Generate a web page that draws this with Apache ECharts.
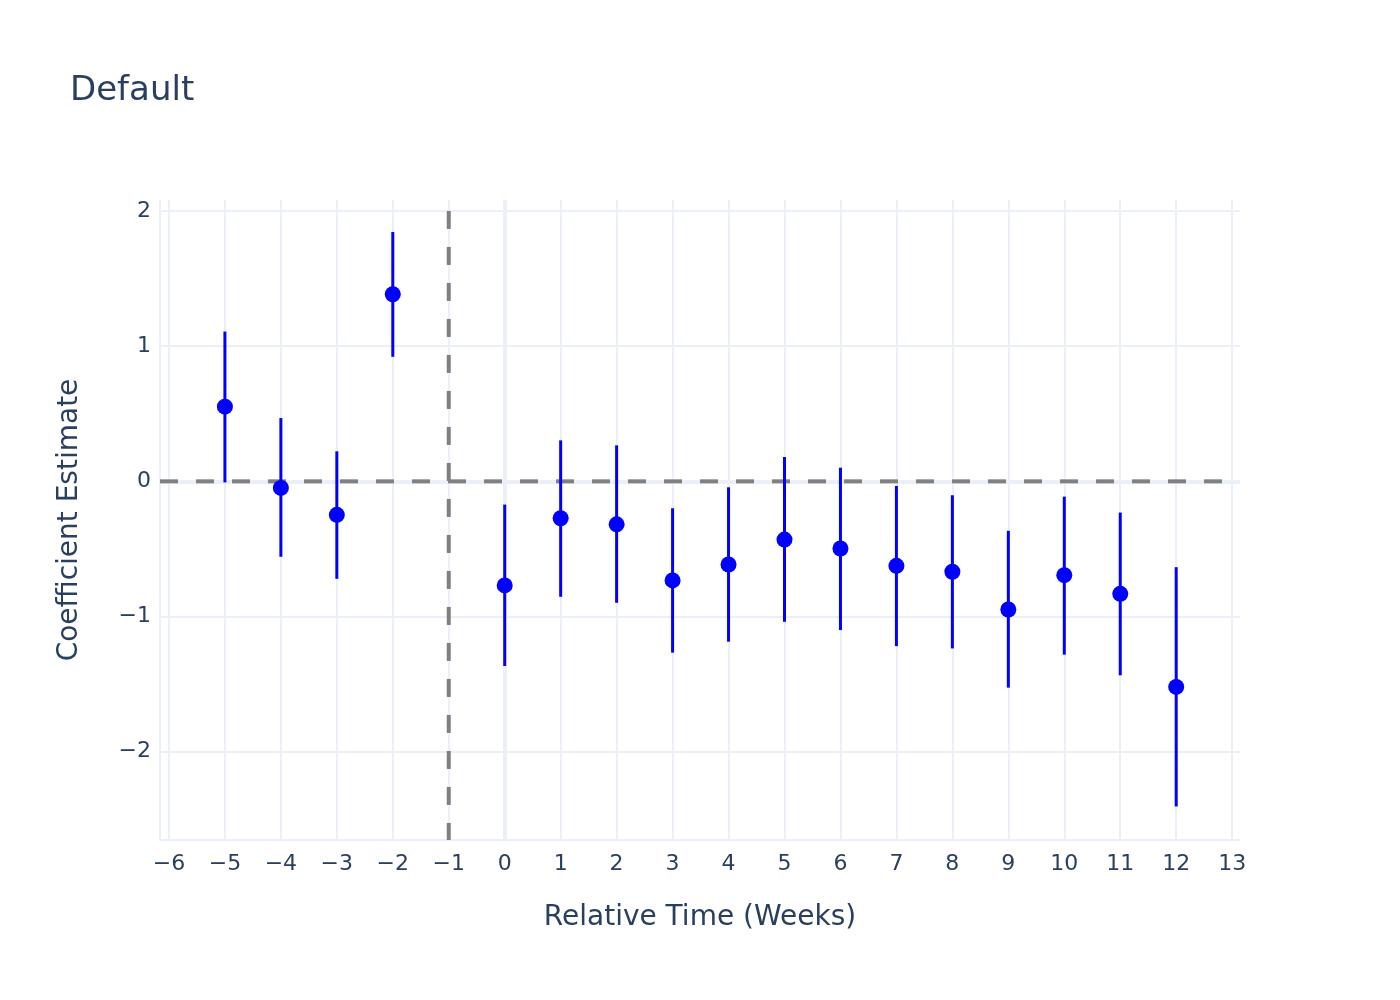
<!DOCTYPE html>
<html>
<head>
<meta charset="utf-8">
<script src="https://cdn.jsdelivr.net/npm/echarts@6/dist/echarts.min.js"></script>
<style>html,body{margin:0;padding:0;background:#fff;}#chart{width:1400px;height:1000px;}</style>
</head>
<body>
<div id="chart"></div>
<script>
// ---- data ----
const relTime = [-5, -4, -3, -2, 0, 1, 2, 3, 4, 5, 6, 7, 8, 9, 10, 11, 12];
const coef    = [0.552, -0.049, -0.248, 1.384, -0.770, -0.273, -0.318, -0.733, -0.615, -0.431, -0.497, -0.625, -0.669, -0.948, -0.694, -0.832, -1.521];
const upperCI = [1.108, 0.468, 0.222, 1.844, -0.172, 0.303, 0.266, -0.199, -0.044, 0.180, 0.101, -0.034, -0.103, -0.366, -0.113, -0.231, -0.635];
const lowerCI = [-0.008, -0.558, -0.721, 0.921, -1.366, -0.854, -0.898, -1.267, -1.186, -1.039, -1.100, -1.219, -1.236, -1.526, -1.282, -1.435, -2.405];
const xTicks = [-6, -5, -4, -3, -2, -1, 0, 1, 2, 3, 4, 5, 6, 7, 8, 9, 10, 11, 12, 13];
const yTicks = [-2, -1, 0, 1, 2];
const xRange = [-6.16, 13.14];
const yRange = [-2.653, 2.081];
const refX = -1;            // treatment reference (vertical dashed line)
const refY = 0;             // zero effect (horizontal dashed line)
const vlineSpan = [2, -2.653];

const textColor = '#2a3f5f';
const gridColor = '#EBF0F8';
const fontFam = '"DejaVu Sans", Verdana, sans-serif';
const fmt = v => String(v).replace('-', '\u2212');

const chart = echarts.init(document.getElementById('chart'));
chart.setOption({
  animation: false,
  backgroundColor: '#fff',
  textStyle: { fontFamily: fontFam },
  title: {
    text: 'Default',
    left: 65, top: 69,
    textStyle: { color: textColor, fontSize: 34, fontWeight: 'normal', fontFamily: fontFam }
  },
  grid: { left: 160, right: 160, top: 200, bottom: 160, containLabel: false },
  xAxis: {
    type: 'value', min: xRange[0], max: xRange[1],
    name: 'Relative Time (Weeks)', nameLocation: 'middle', nameGap: 64,
    nameTextStyle: { color: textColor, fontSize: 28, fontFamily: fontFam },
    axisLine: { show: true, onZero: false, lineStyle: { color: gridColor, width: 2 } },
    axisTick: { show: false, customValues: xTicks },
    axisLabel: { customValues: xTicks, formatter: fmt, color: textColor, fontSize: 22, margin: 13, fontFamily: fontFam },
    splitLine: { show: true, lineStyle: { color: gridColor, width: 2 } }
  },
  yAxis: {
    type: 'value', min: yRange[0], max: yRange[1],
    name: 'Coefficient Estimate', nameLocation: 'middle', nameGap: 76, nameRotate: 90,
    nameTextStyle: { color: textColor, fontSize: 28, fontFamily: fontFam },
    axisLine: { show: true, onZero: false, lineStyle: { color: gridColor, width: 2 } },
    axisTick: { show: false, customValues: yTicks },
    axisLabel: { customValues: yTicks, formatter: fmt, color: textColor, fontSize: 22, margin: 9, fontFamily: fontFam },
    splitLine: { show: true, lineStyle: { color: gridColor, width: 2 } }
  },
  series: [
    {
      type: 'line', data: [], silent: true, z: 1,
      markLine: {
        z: 1, silent: true, symbol: 'none', label: { show: false },
        lineStyle: { color: gridColor, width: 4, type: 'solid' },
        data: [{ xAxis: 0 }, { yAxis: 0 }]
      }
    },
    {
      type: 'line', silent: true, z: 2, symbol: 'none',
      data: [[xRange[0], refY], [xRange[1], refY]],
      lineStyle: { color: '#808080', width: 4, type: [18, 18] }
    },
    {
      type: 'line', silent: true, z: 2, symbol: 'none',
      data: [[refX, vlineSpan[0]], [refX, vlineSpan[1]]],
      lineStyle: { color: '#808080', width: 4, type: [18, 18] }
    },
    {
      type: 'custom', z: 3,
      data: relTime.map((x, i) => [x, lowerCI[i], upperCI[i]]),
      encode: { x: 0, y: [1, 2] },
      renderItem: (params, api) => {
        const x = api.value(0);
        const p1 = api.coord([x, api.value(1)]);
        const p2 = api.coord([x, api.value(2)]);
        return { type: 'line', shape: { x1: p1[0], y1: p1[1], x2: p2[0], y2: p2[1] },
                 style: { stroke: '#0000ff', lineWidth: 3 } };
      }
    },
    {
      type: 'scatter', z: 4, symbol: 'circle', symbolSize: 16,
      itemStyle: { color: '#0000ff', opacity: 1 },
      data: relTime.map((x, i) => [x, coef[i]])
    }
  ]
});
</script>
</body>
</html>
